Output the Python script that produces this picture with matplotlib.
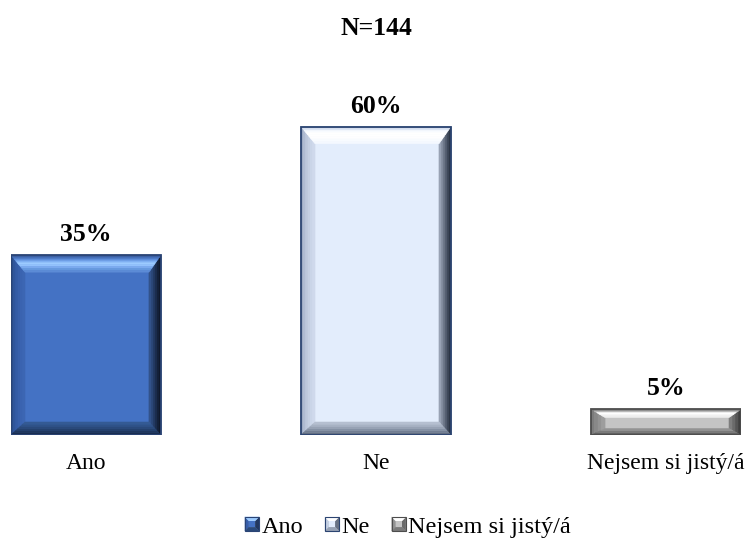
import matplotlib
matplotlib.use("Agg")
import matplotlib.pyplot as plt
from matplotlib.patches import Polygon, Rectangle
from matplotlib.legend_handler import HandlerBase

categories = ["Ano", "Ne", "Nejsem si jistý/á"]
shares = [35, 60, 5]
sample_size = 144

plt.rcParams['font.family'] = ['Liberation Serif', 'DejaVu Serif']

# colour sets for the bevelled bars: face, outline and the four bevel bands
# (each band listed from the outer edge towards the face)
styles = [
    dict(face='#4472C4', edge='#2A4475',
         top=['#3A5C9C', '#4670BA', '#5D8DDA', '#7FB0F2', '#9CCBFF', '#93C2FC',
              '#7BAAEE', '#679ADF', '#5C8BD6'],
         left=['#2A4C88', '#2F559B', '#335BA5', '#375FAB', '#3A63B0', '#3C66B3'],
         right=['#0E1628', '#131F36', '#1A2B4A', '#223860', '#2A4676', '#32528A'],
         bottom=['#1A2E50', '#1F375E', '#24406C', '#2A497A', '#2F5288', '#345A94']),
    dict(face='#E3EDFC', edge='#2B4471',
         top=['#B9C5DA', '#DDE6F4', '#F8FBFF', '#FFFFFF', '#FFFFFF', '#FFFFFF',
              '#FCFDFF', '#F8FBFF', '#F4F8FF'],
         left=['#9FACC4', '#AFBBD1', '#BCC7DB', '#C4CFE2', '#CAD5E8', '#CFD9EC'],
         right=['#283040', '#3A4455', '#505A6C', '#687284', '#808A9C', '#98A2B4'],
         bottom=['#5F6B80', '#727E92', '#8591A4', '#97A2B4', '#A7B2C3', '#B5BFD0']),
    dict(face='#C4C4C4', edge='#4D4D4D',
         top=['#7A7A7A', '#B8B8B8', '#FFFFFF', '#F8F8F8', '#EDEDED'],
         left=['#7C7C7C', '#888888', '#939393', '#9D9D9D'],
         right=['#3F3F3F', '#555555', '#6A6A6A', '#7E7E7E'],
         bottom=['#5E5E5E', '#7A7A7A', '#929292']),
]

W, H, DPI = 746, 540, 100
fig = plt.figure(figsize=(W / DPI, H / DPI), dpi=DPI)
left_px, right_px, base_px, top_px = 11, 741, 435, 101
ax = fig.add_axes([left_px / W, (H - base_px) / H,
                   (right_px - left_px) / W, (base_px - top_px) / H])
bar_w = 0.517
x = list(range(len(categories)))
ax.set_xlim(-bar_w / 2, len(categories) - 1 + bar_w / 2)
ax.set_ylim(0, 65)
for s in ax.spines.values():
    s.set_visible(False)
ax.set_yticks([])
ax.set_xticks(x, categories, fontsize=17)
ax.tick_params(axis='x', length=0, pad=13)


def band_polys(x0, y0, x1, y1, d, side, a, b):
    """Trapezoid of one bevel band between relative depths a (outer) and b (inner).
    d holds the band depths (left, bottom, right, top)."""
    dl, db, dr, dt = d

    def r(t):
        return x0 + t * dl, y0 + t * db, x1 - t * dr, y1 - t * dt
    ax0, ay0, ax1, ay1 = r(a)
    bx0, by0, bx1, by1 = r(b)
    if side == 'top':
        return [(ax0, ay1), (ax1, ay1), (bx1, by1), (bx0, by1)]
    if side == 'bottom':
        return [(ax0, ay0), (ax1, ay0), (bx1, by0), (bx0, by0)]
    if side == 'left':
        return [(ax0, ay0), (ax0, ay1), (bx0, by1), (bx0, by0)]
    return [(ax1, ay0), (ax1, ay1), (bx1, by1), (bx1, by0)]


def draw_bevel(ax, patch, st, depths=(14, 13, 12, 17)):
    tr = ax.transData
    (x0, y0), (x1, y1) = tr.transform([
        (patch.get_x(), patch.get_y()),
        (patch.get_x() + patch.get_width(), patch.get_y() + patch.get_height())])
    w, h = x1 - x0, y1 - y0
    dl, db, dr, dt = depths
    d = (min(dl, 0.3 * w), min(db, 0.25 * h), min(dr, 0.3 * w), min(dt, 0.32 * h))
    inv = tr.inverted()
    for side in ('left', 'right', 'bottom', 'top'):
        cols = st[side]
        n = len(cols)
        for i, c in enumerate(cols):
            poly = band_polys(x0, y0, x1, y1, d, side, i / n, (i + 1) / n)
            ax.add_patch(Polygon(inv.transform(poly), closed=True, fc=c, ec=c,
                                 lw=0.4, zorder=3))
    ax.add_patch(Rectangle((patch.get_x(), patch.get_y()), patch.get_width(),
                           patch.get_height(), fill=False, ec=st['edge'],
                           lw=1.3, zorder=4))


bars = ax.bar(x, shares, width=bar_w, color=[s['face'] for s in styles],
              edgecolor='none', zorder=2)
for patch, st in zip(bars, styles):
    draw_bevel(ax, patch, st)

for xi, v in zip(x, shares):
    ax.annotate(f"{v}%", (xi, v), xytext=(0, 10), textcoords='offset points',
                ha='center', va='baseline', fontsize=18.5, fontweight='bold')

fig.text((left_px + right_px) / 2 / W, (H - 35) / H, f"N={sample_size}",
         ha='center', va='baseline', fontsize=18.5, fontweight='bold')


class BevelSquareHandler(HandlerBase):
    def __init__(self, style):
        super().__init__()
        self.style = style

    def create_artists(self, legend, orig_handle, xdescent, ydescent,
                       width, height, fontsize, trans):
        side = min(width, height)
        x0 = -xdescent + (width - side) / 2
        y0 = -ydescent + (height - side) / 2
        x1, y1 = x0 + side, y0 + side
        k = side * 0.28
        st = self.style
        arts = []
        for name in ('left', 'right', 'bottom', 'top'):
            cols = st[name]
            c = cols[len(cols) // 2]
            poly = band_polys(x0, y0, x1, y1, (k, k, k, k), name, 0, 1)
            arts.append(Polygon(poly, closed=True, fc=c, ec=c, lw=0.3,
                                transform=trans))
        arts.append(Rectangle((x0 + k, y0 + k), side - 2 * k, side - 2 * k,
                              fc=st['face'], ec='none', transform=trans))
        arts.append(Rectangle((x0, y0), side, side, fill=False,
                              ec=st['edge'], lw=0.8, transform=trans))
        return arts


proxies = [Rectangle((0, 0), 1, 1, fc=s['face']) for s in styles]
ax.legend(proxies, categories,
          handler_map={p: BevelSquareHandler(s) for p, s in zip(proxies, styles)},
          loc='center', bbox_to_anchor=(408 / W, 1 - 527 / H),
          bbox_transform=fig.transFigure, ncol=3, frameon=False,
          fontsize=17.5, handlelength=0.58, handleheight=0.58,
          handletextpad=0.1, columnspacing=0.9)

fig.savefig("out.png", dpi=DPI)
